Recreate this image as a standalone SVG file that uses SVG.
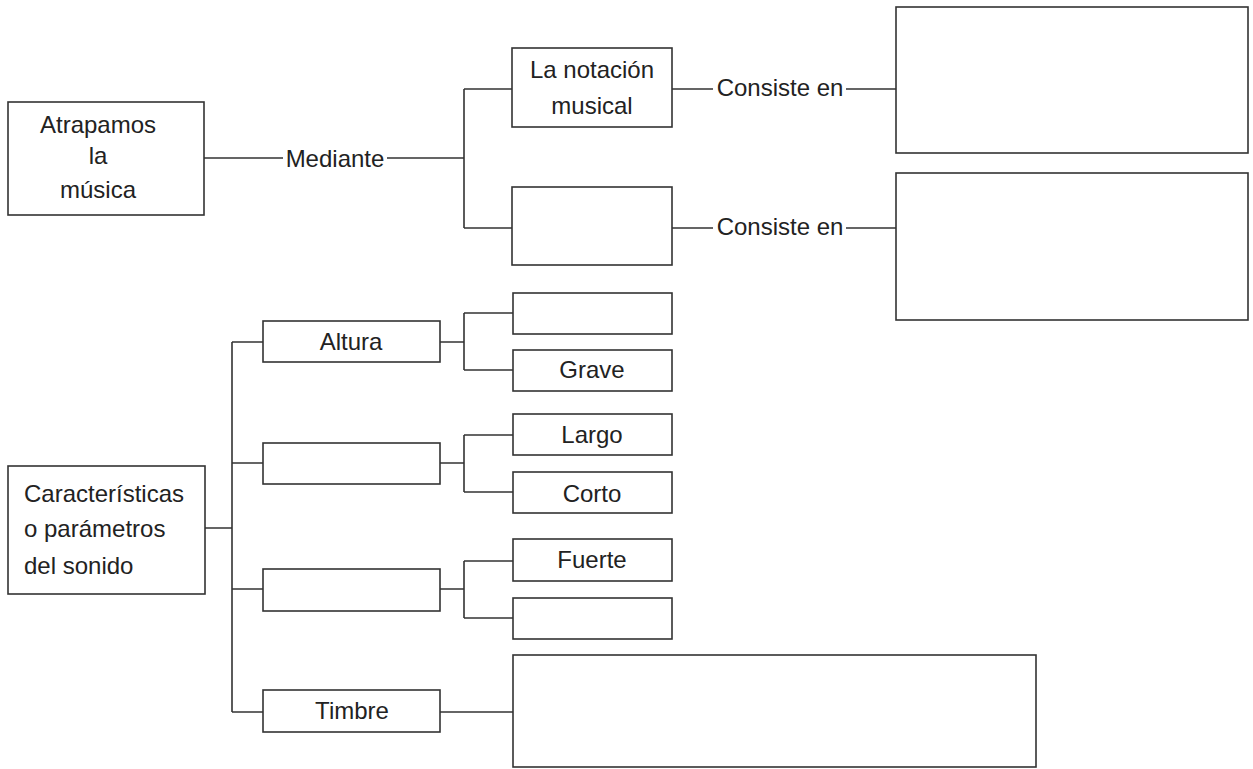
<svg xmlns="http://www.w3.org/2000/svg" width="1253" height="769" viewBox="0 0 1253 769">
<style>
.box{fill:#fff;stroke:#333;stroke-width:1.6}
.ln{fill:none;stroke:#333;stroke-width:1.6}
text{font-family:"Liberation Sans",Arial,sans-serif;font-size:24px;fill:#222}
.c{text-anchor:middle}
</style>
<rect width="1253" height="769" fill="#fff"/>
<g id="connectors">
<path class="ln" d="M204,158H283M387,158H464M464,89V228M464,89H512M464,228H512"/>
<path class="ln" d="M672,89H713M846,89H896M672,228H713M846,228H896"/>
<path class="ln" d="M205,528H232M232,342V712M232,342H263M232,463H263M232,589H263M232,712H263"/>
<path class="ln" d="M440,342H464M464,313V370M464,313H513M464,370H513"/>
<path class="ln" d="M440,463H464M464,435V492M464,435H513M464,492H513"/>
<path class="ln" d="M440,589H464M464,561V618M464,561H513M464,618H513"/>
<path class="ln" d="M440,712H513"/>
</g>
<g id="atrapamos"><rect class="box" x="8" y="102" width="196" height="113"/>
<text class="c" x="98" y="133">Atrapamos</text><text class="c" x="98" y="164">la</text><text class="c" x="98" y="198">música</text></g>
<g id="mediante"><text class="c" x="335" y="167">Mediante</text></g>
<g id="notacion"><rect class="box" x="512" y="48" width="160" height="79"/>
<text class="c" x="592" y="78">La notación</text><text class="c" x="592" y="114">musical</text></g>
<g id="blank1"><rect class="box" x="512" y="187" width="160" height="78"/></g>
<g id="consiste1"><text class="c" x="780" y="96">Consiste en</text></g>
<g id="consiste2"><text class="c" x="780" y="235">Consiste en</text></g>
<g id="big1"><rect class="box" x="896" y="7" width="352" height="146"/></g>
<g id="big2"><rect class="box" x="896" y="173" width="352" height="147"/></g>
<g id="caracteristicas"><rect class="box" x="8" y="466" width="197" height="128"/>
<text x="24" y="502">Características</text><text x="24" y="537">o parámetros</text><text x="24" y="574">del sonido</text></g>
<g id="altura"><rect class="box" x="263" y="321" width="177" height="41"/><text class="c" x="351" y="350">Altura</text></g>
<g id="blank2"><rect class="box" x="263" y="443" width="177" height="41"/></g>
<g id="blank3"><rect class="box" x="263" y="569" width="177" height="42"/></g>
<g id="timbre"><rect class="box" x="263" y="690" width="177" height="42"/><text class="c" x="352" y="719">Timbre</text></g>
<g id="agudo"><rect class="box" x="513" y="293" width="159" height="41"/></g>
<g id="grave"><rect class="box" x="513" y="350" width="159" height="41"/><text class="c" x="592" y="378">Grave</text></g>
<g id="largo"><rect class="box" x="513" y="414" width="159" height="41"/><text class="c" x="592" y="443">Largo</text></g>
<g id="corto"><rect class="box" x="513" y="472" width="159" height="41"/><text class="c" x="592" y="502">Corto</text></g>
<g id="fuerte"><rect class="box" x="513" y="539" width="159" height="42"/><text class="c" x="592" y="568">Fuerte</text></g>
<g id="suave"><rect class="box" x="513" y="598" width="159" height="41"/></g>
<g id="timbrebox"><rect class="box" x="513" y="655" width="523" height="112"/></g>
</svg>
